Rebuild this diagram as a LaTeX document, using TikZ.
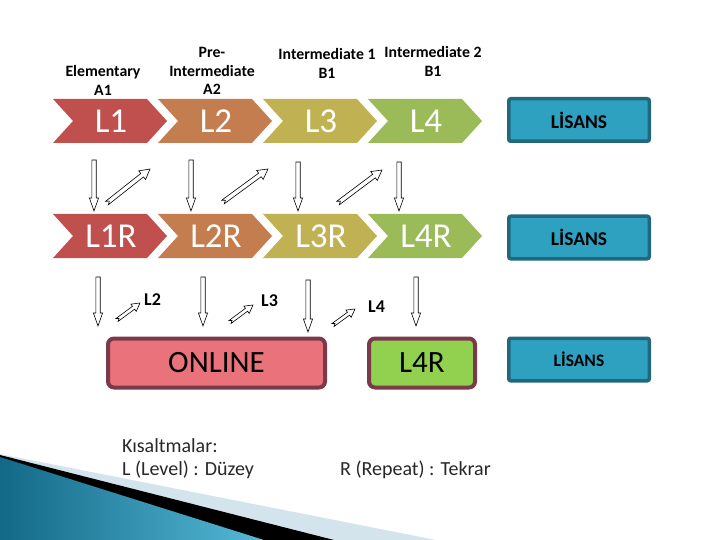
\documentclass[tikz,border=0pt]{standalone}
\usepackage{fontspec}
\setmainfont{Carlito}
\usetikzlibrary{calc}
\definecolor{cL1}{RGB}{192,80,77}
\definecolor{cL2}{RGB}{196,125,78}
\definecolor{cL3}{RGB}{192,178,82}
\definecolor{cL4}{RGB}{155,187,89}
\definecolor{lisfill}{RGB}{46,160,192}
\definecolor{lisdraw}{RGB}{33,104,124}
\definecolor{onfill}{RGB}{234,114,122}
\definecolor{boxdraw}{RGB}{122,58,74}
\definecolor{lfourfill}{RGB}{146,208,80}
\definecolor{txtgray}{RGB}{40,40,40}
\definecolor{decodark}{RGB}{18,105,135}
\definecolor{decolight}{RGB}{85,185,215}
\definecolor{decopale}{RGB}{212,228,236}
\tikzset{
  chevlabel/.style={text=white,font=\fontsize{35}{37}\selectfont,inner sep=0pt},
  toplabel/.style={font=\bfseries\fontsize{15.8}{18.5}\selectfont,align=center,inner sep=0pt},
  lisans/.style={draw=lisdraw,fill=lisfill,line width=3.5pt,rounded corners=2pt,
     minimum width=140.5pt,minimum height=42.5pt,font=\bfseries\fontsize{19.5}{21}\selectfont,inner sep=0pt},
  onbox/.style={draw=boxdraw,line width=4pt,rounded corners=6pt,minimum height=49pt,
     font=\fontsize{31}{33}\selectfont,inner sep=0pt},
  smalllabel/.style={font=\bfseries\fontsize{18}{20}\selectfont,inner sep=0pt,anchor=west},
  bottomtext/.style={font=\fontsize{20}{23}\selectfont,text=txtgray,inner sep=0pt,anchor=west},
  arrline/.style={draw=black,fill=white,line width=0.6pt,line join=miter},
}
% hollow block arrow between two named coordinates
% #1 tail, #2 head, #3 half shaft, #4 half head, #5 head length, #6 notch depth
\newcommand\hollowarr[6]{%
  \pgfmathanglebetweenpoints{\pgfpointanchor{#1}{center}}{\pgfpointanchor{#2}{center}}%
  \let\harAng\pgfmathresult
  \pgfpointdiff{\pgfpointanchor{#1}{center}}{\pgfpointanchor{#2}{center}}%
  \pgfgetlastxy{\harDx}{\harDy}%
  \pgfmathsetmacro\harLen{veclen(\harDx,\harDy)}%
  \begin{scope}[shift={(#1)},rotate=\harAng]
    \path[arrline] (0,#3) -- ({\harLen-#5},#3) -- ({\harLen-#5},#4) -- (\harLen,0)
      -- ({\harLen-#5},-#4) -- ({\harLen-#5},-#3) -- (0,-#3) -- (#6,0) -- cycle;
  \end{scope}}
\newcommand\chevron[5]{%
  \fill[#4] (#2,#3) -- ++(94,0) -- ++(20,22) -- ++(-20,22) -- ++(-94,0) -- ++(20,-22) -- cycle;
  \node[chevlabel] (#1) at ({#2+58},{#3+22.5}) {#5};}
\begin{document}
\begin{tikzpicture}[x=1pt,y=-1pt]
\fill[white] (0,0) rectangle (720,540);
\useasboundingbox (0,0) rectangle (720,540);
% bottom-left decoration
\fill[decopale] (0,454) -- (436,540) -- (0,540) -- cycle;
\fill[black] (0,455) -- (334,540) -- (0,540) -- cycle;
\shade[left color=decodark,right color=decolight] (0,457) -- (264,540) -- (0,540) -- cycle;
% top labels
\node[toplabel] (elem) at (103,80.5) {Elementary\\A1};
\node[toplabel] (preint) at (212,71) {Pre-\\Intermediate\\A2};
\node[toplabel] (int1) at (327,63.5) {Intermediate 1\\B1};
\node[toplabel] (int2) at (433,61.5) {Intermediate 2\\B1};
% chevrons row 1
\chevron{L1}{53}{99}{cL1}{L1}
\chevron{L2}{158}{99}{cL2}{L2}
\chevron{L3}{263}{99}{cL3}{L3}
\chevron{L4}{368}{99}{cL4}{L4}
% chevrons row 2
\chevron{L1R}{53}{214}{cL1}{L1R}
\chevron{L2R}{158}{214}{cL2}{L2R}
\chevron{L3R}{263}{214}{cL3}{L3R}
\chevron{L4R}{368}{214}{cL4}{L4R}
% LISANS boxes
\node[lisans] (lis1) at (579,120) {LİSANS};
\node[lisans] (lis2) at (579,237.5) {LİSANS};
\node[lisans,font=\bfseries\fontsize{17.5}{19}\selectfont] (lis3) at (579,359.5) {LİSANS};
% bottom boxes
\node[onbox,fill=onfill,minimum width=217pt] (online) at (216.5,363) {ONLINE};
\node[onbox,fill=lfourfill,minimum width=106pt] (lfourr) at (422,363) {L4R};
% arrow end points row 1 -> row 2
\coordinate (d1a) at (94,160);  \coordinate (d1b) at (94,211);
\coordinate (d2a) at (191,160); \coordinate (d2b) at (191,211);
\coordinate (d3a) at (298,162); \coordinate (d3b) at (298,211);
\coordinate (d4a) at (399,162); \coordinate (d4b) at (399,211);
\hollowarr{d1a}{d1b}{2.2}{4.6}{13}{0}
\hollowarr{d2a}{d2b}{2.2}{4.6}{13}{0}
\hollowarr{d3a}{d3b}{2.2}{4.6}{13}{0}
\hollowarr{d4a}{d4b}{2.2}{4.6}{13}{0}
\coordinate (u1a) at (107,203); \coordinate (u1b) at (150,169);
\coordinate (u2a) at (223,202); \coordinate (u2b) at (268,169);
\coordinate (u3a) at (338,203); \coordinate (u3b) at (382,170);
\hollowarr{u1a}{u1b}{2.2}{5.5}{10}{3}
\hollowarr{u2a}{u2b}{2.2}{5.5}{10}{3}
\hollowarr{u3a}{u3b}{2.2}{5.5}{10}{3}
% row 2 -> row 3
\coordinate (e1a) at (98,277);  \coordinate (e1b) at (98,326);
\coordinate (e2a) at (203,277); \coordinate (e2b) at (203,326);
\coordinate (e3a) at (308,280); \coordinate (e3b) at (308,332);
\coordinate (e4a) at (416,277); \coordinate (e4b) at (416,326);
\hollowarr{e1a}{e1b}{2.2}{4.6}{13}{0}
\hollowarr{e2a}{e2b}{2.2}{4.6}{13}{0}
\hollowarr{e3a}{e3b}{2.2}{4.6}{13}{0}
\hollowarr{e4a}{e4b}{2.2}{4.6}{13}{0}
\coordinate (v1a) at (117,320); \coordinate (v1b) at (140,303);
\coordinate (v2a) at (230,322); \coordinate (v2b) at (253,305);
\coordinate (v3a) at (333,325); \coordinate (v3b) at (355,309);
\hollowarr{v1a}{v1b}{1.8}{4.5}{8}{2.5}
\hollowarr{v2a}{v2b}{1.8}{4.5}{8}{2.5}
\hollowarr{v3a}{v3b}{1.8}{4.5}{8}{2.5}
\node[smalllabel] (lab2) at (144,300) {L2};
\node[smalllabel] (lab3) at (261,301) {L3};
\node[smalllabel] (lab4) at (368,307) {L4};
% bottom texts
\node[bottomtext] (kis) at (122,446) {Kısaltmalar:};
\node[bottomtext] (lev) at (122,470) {L (Level) : Düzey};
\node[bottomtext] (rep) at (340,470) {R (Repeat) : Tekrar};
\end{tikzpicture}
\end{document}
